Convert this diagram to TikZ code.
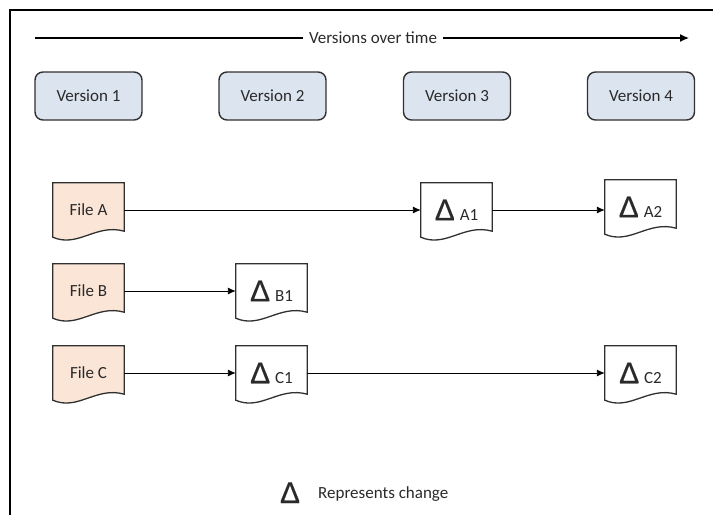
\documentclass[tikz,border=0pt]{standalone}
\usepackage{fontspec}
\setmainfont{Carlito}
\newfontfamily\dfont[FakeBold=0.5]{Liberation Sans}
\usetikzlibrary{arrows.meta,calc,backgrounds}
\definecolor{verfill}{HTML}{DCE4F0}
\definecolor{filefill}{HTML}{FBE5D6}
\definecolor{edge}{HTML}{303030}
\definecolor{txt}{HTML}{2A2A2A}
\newcommand\dlt{{\dfont\fontsize{30}{30}\selectfont Δ}}
\newcommand\docpath[2]{%
  \draw[docline, fill=#2] (#1.north west) -- (#1.north east) -- ($(#1.south east)+(0,-6)$)
    .. controls ($(#1.south east)+(-28,-14)$) and ($(#1.south west)+(25,11)$) .. (#1.south west) -- cycle;}
\tikzset{
  txtstyle/.style={font=\fontsize{17}{19}\selectfont, text=txt},
  verbox/.style={txtstyle, draw=edge, line width=1.4pt, fill=verfill, rounded corners=8pt,
    minimum width=107pt, minimum height=48pt, inner sep=0pt},
  docnode/.style={txtstyle, minimum width=71pt, minimum height=54pt, inner sep=0pt},
  docline/.style={draw=edge, line width=1.3pt},
  conn/.style={draw=black, line width=0.9pt, -{Latex[length=8pt,width=7pt]}},
}
\begin{document}
\begin{tikzpicture}[x=1pt,y=-1pt]
\useasboundingbox (0,0) rectangle (713,515);
% frame
\draw[line width=1.8pt] (10,515) -- (10,10) -- (713,10);
% time line
\coordinate (tl) at (35,38);
\coordinate (tr) at (689,38);
\node[txtstyle, inner sep=6pt] (title) at (373,38) {Versions over time};
\draw[line width=1.3pt] (tl) -- (title.west);
\draw[line width=1.3pt, -{Latex[length=9pt,width=8pt]}] (title.east) -- (tr);
% versions
\node[verbox] (v1) at (88.5,96) {Version 1};
\node[verbox] (v2) at (272.5,96) {Version 2};
\node[verbox] (v3) at (457,96) {Version 3};
\node[verbox] (v4) at (641,96) {Version 4};
% files
\node[docnode] (fa) at (88.5,210) {File A};
\node[docnode] (fb) at (88.5,291) {File B};
\node[docnode] (fc) at (88.5,373) {File C};
\node[docnode] (b1) at (271.5,291) {\dlt\hspace{5pt}B1};
\node[docnode] (c1) at (271.5,373) {\dlt\hspace{5pt}C1};
\node[docnode] (a1) at (456.5,210) {\dlt\hspace{5pt}A1};
\node[docnode] (a2) at (640.5,207) {\dlt\hspace{5pt}A2};
\node[docnode] (c2) at (640.5,373) {\dlt\hspace{5pt}C2};
\begin{scope}[on background layer]
\docpath{fa}{filefill}
\docpath{fb}{filefill}
\docpath{fc}{filefill}
\docpath{b1}{white}
\docpath{c1}{white}
\docpath{a1}{white}
\docpath{a2}{white}
\docpath{c2}{white}
\end{scope}
% connectors
\draw[conn] (fa.east) -- (a1.west);
\draw[conn] (a1.east) -- (a1.east -| a2.west);
\draw[conn] (fb.east) -- (b1.west);
\draw[conn] (fc.east) -- (c1.west);
\draw[conn] (c1.east) -- (c2.west);
% legend
\node[txtstyle, anchor=base, inner sep=0pt] (lt) at (290,503) {\dlt};
\node[txtstyle, anchor=base west, inner sep=0pt] (ll) at (318,498) {Represents change};
\end{tikzpicture}
\end{document}
